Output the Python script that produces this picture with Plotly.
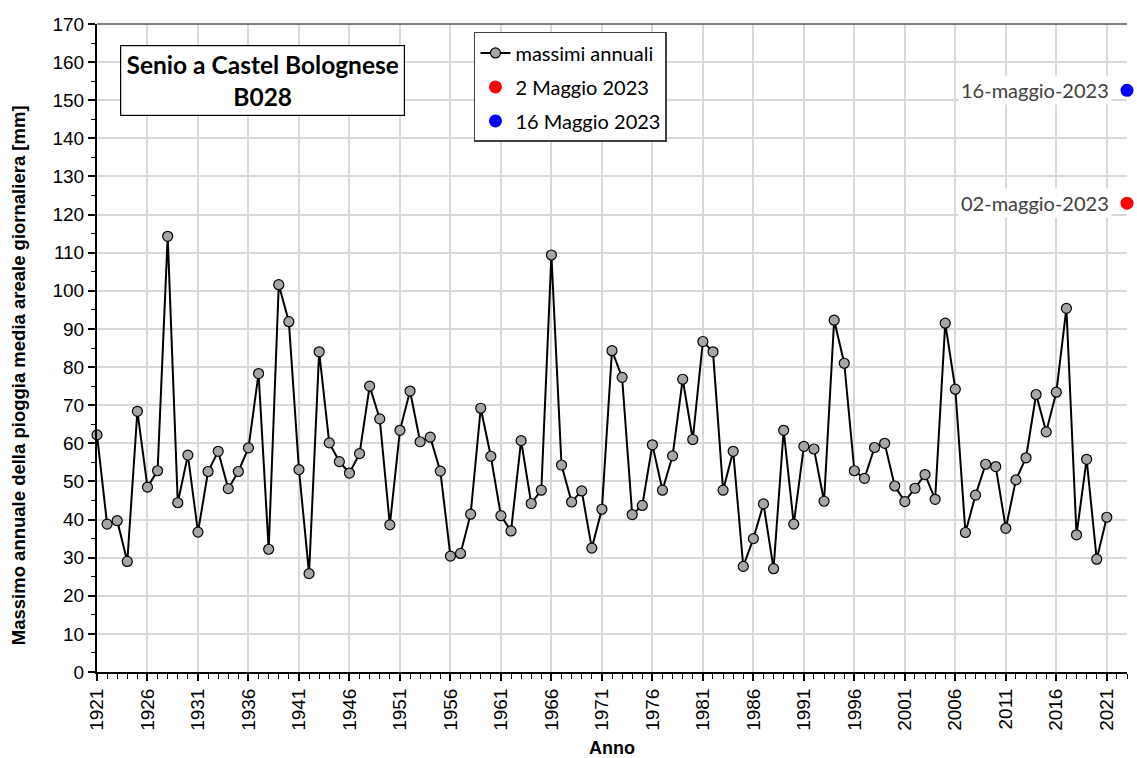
import plotly.graph_objects as go

anni = list(range(1921, 2022))
massimi = [62.2, 38.8, 39.7, 29.0, 68.4, 48.5, 52.8, 114.3, 44.4, 56.9,
           36.7, 52.6, 57.9, 48.1, 52.6, 58.8, 78.3, 32.2, 101.6, 91.9,
           53.1, 25.8, 84.0, 60.1, 55.2, 52.2, 57.3, 75.0, 66.4, 38.6,
           63.4, 73.7, 60.4, 61.6, 52.7, 30.4, 31.1, 41.4, 69.2, 56.6,
           41.0, 37.0, 60.7, 44.2, 47.7, 109.4, 54.3, 44.6, 47.5, 32.5,
           42.7, 84.3, 77.3, 41.3, 43.7, 59.6, 47.7, 56.7, 76.8, 61.0,
           86.7, 84.0, 47.7, 57.9, 27.7, 35.0, 44.1, 27.1, 63.4, 38.8,
           59.2, 58.5, 44.8, 92.3, 81.0, 52.8, 50.8, 58.9, 60.0, 48.8,
           44.7, 48.2, 51.8, 45.3, 91.5, 74.2, 36.6, 46.4, 54.5, 53.9,
           37.7, 50.4, 56.2, 72.8, 63.0, 73.4, 95.4, 36.0, 55.8, 29.6,
           40.6]
anno_evento = [2023]
maggio_02 = [123.0]
maggio_16 = [152.6]
tick_anni = list(range(1921, 2022, 5))

fig = go.Figure()
fig.add_trace(go.Scatter(
    x=anni, y=massimi, mode="lines+markers", name="massimi annuali",
    legendgroup="a",
    line=dict(color="black", width=2),
    marker=dict(size=10, color="#a6a6a6", line=dict(color="black", width=1.2)),
    cliponaxis=False))
fig.add_trace(go.Scatter(
    x=anno_evento, y=maggio_02, mode="markers", name="2 Maggio 2023",
    legendgroup="b",
    marker=dict(size=13, color="#ff0000"), cliponaxis=False))
fig.add_trace(go.Scatter(
    x=anno_evento, y=maggio_16, mode="markers", name="16 Maggio 2023",
    legendgroup="c",
    marker=dict(size=13, color="#0000ff"), cliponaxis=False))

lab_font = dict(family="Lato, Open Sans, sans-serif", size=20, color="#404040")
fig.add_annotation(x=anno_evento[0], y=maggio_02[0], xref="x", yref="y",
                   text="02-maggio-2023", showarrow=False, xanchor="right",
                   xshift=-15, font=lab_font, bgcolor="white", borderpad=2)
fig.add_annotation(x=anno_evento[0], y=maggio_16[0], xref="x", yref="y",
                   text="16-maggio-2023", showarrow=False, xanchor="right",
                   xshift=-15, font=lab_font, bgcolor="white", borderpad=2)

fig.add_annotation(x=0.1607, y=0.9128, xref="paper", yref="paper",
                   text="<b>Senio a Castel Bolognese<br>B028</b>",
                   showarrow=False, xanchor="center", yanchor="middle",
                   font=dict(family="Lato, Open Sans, sans-serif", size=24.5, color="black"),
                   bgcolor="white", bordercolor="black", borderwidth=1.2,
                   borderpad=6, align="center", width=271, height=57)

# axis titles
fig.add_annotation(x=-0.0767, y=0.458, xref="paper", yref="paper",
                   text="<b>Massimo annuale della pioggia media areale giornaliera [mm]</b>",
                   showarrow=False, textangle=-90, xanchor="center", yanchor="middle",
                   font=dict(family="Liberation Sans, Arial", size=18.5, color="black"))
fig.add_annotation(x=0.5, y=-0.117, xref="paper", yref="paper",
                   text="<b>Anno</b>", showarrow=False, xanchor="center", yanchor="middle",
                   font=dict(family="Liberation Sans, Arial", size=18, color="black"))

fig.add_shape(type="line", xref="paper", yref="paper", x0=0, x1=1, y0=1, y1=1,
              line=dict(color="#595959", width=1.5))

fig.update_layout(
    width=1137, height=758,
    margin=dict(l=97, r=10, t=24, b=86, autoexpand=False),
    plot_bgcolor="white", paper_bgcolor="white",
    showlegend=True,
    legend=dict(x=0.366, y=0.9877, xanchor="left", yanchor="top",
                bgcolor="white", bordercolor="#404040", borderwidth=1.5,
                font=dict(family="Lato, Open Sans, sans-serif", size=20, color="black"),
                itemwidth=30, tracegroupgap=5),
    xaxis=dict(range=[1921, 2023], tickmode="array", tickvals=tick_anni,
               ticktext=[str(a) for a in tick_anni], tickangle=-90,
               ticks="outside", ticklen=7, tickwidth=1.5, tickcolor="black",
               showline=True, linecolor="black", linewidth=2,
               showgrid=True, gridcolor="#d9d9d9", gridwidth=1.5,
               minor=dict(dtick=1, tick0=1921, ticks="outside", ticklen=5,
                          tickcolor="black", tickwidth=1, showgrid=False),
               tickfont=dict(family="Liberation Sans, Arial", size=19, color="black"),
               automargin=False, zeroline=False),
    yaxis=dict(range=[0, 170], dtick=10, tick0=0,
               ticks="outside", ticklen=7, tickwidth=1.5, tickcolor="black",
               showline=True, linecolor="black", linewidth=2,
               showgrid=True, gridcolor="#d9d9d9", gridwidth=1.5,
               minor=dict(dtick=5, ticks="outside", ticklen=4,
                          tickcolor="black", tickwidth=1, showgrid=False),
               tickfont=dict(family="Liberation Sans, Arial", size=19, color="black"),
               automargin=False, zeroline=False),
)

fig.write_html("out.html", config={"displayModeBar": False},
               post_script="document.body.style.margin='0';document.body.style.overflow='hidden';")
